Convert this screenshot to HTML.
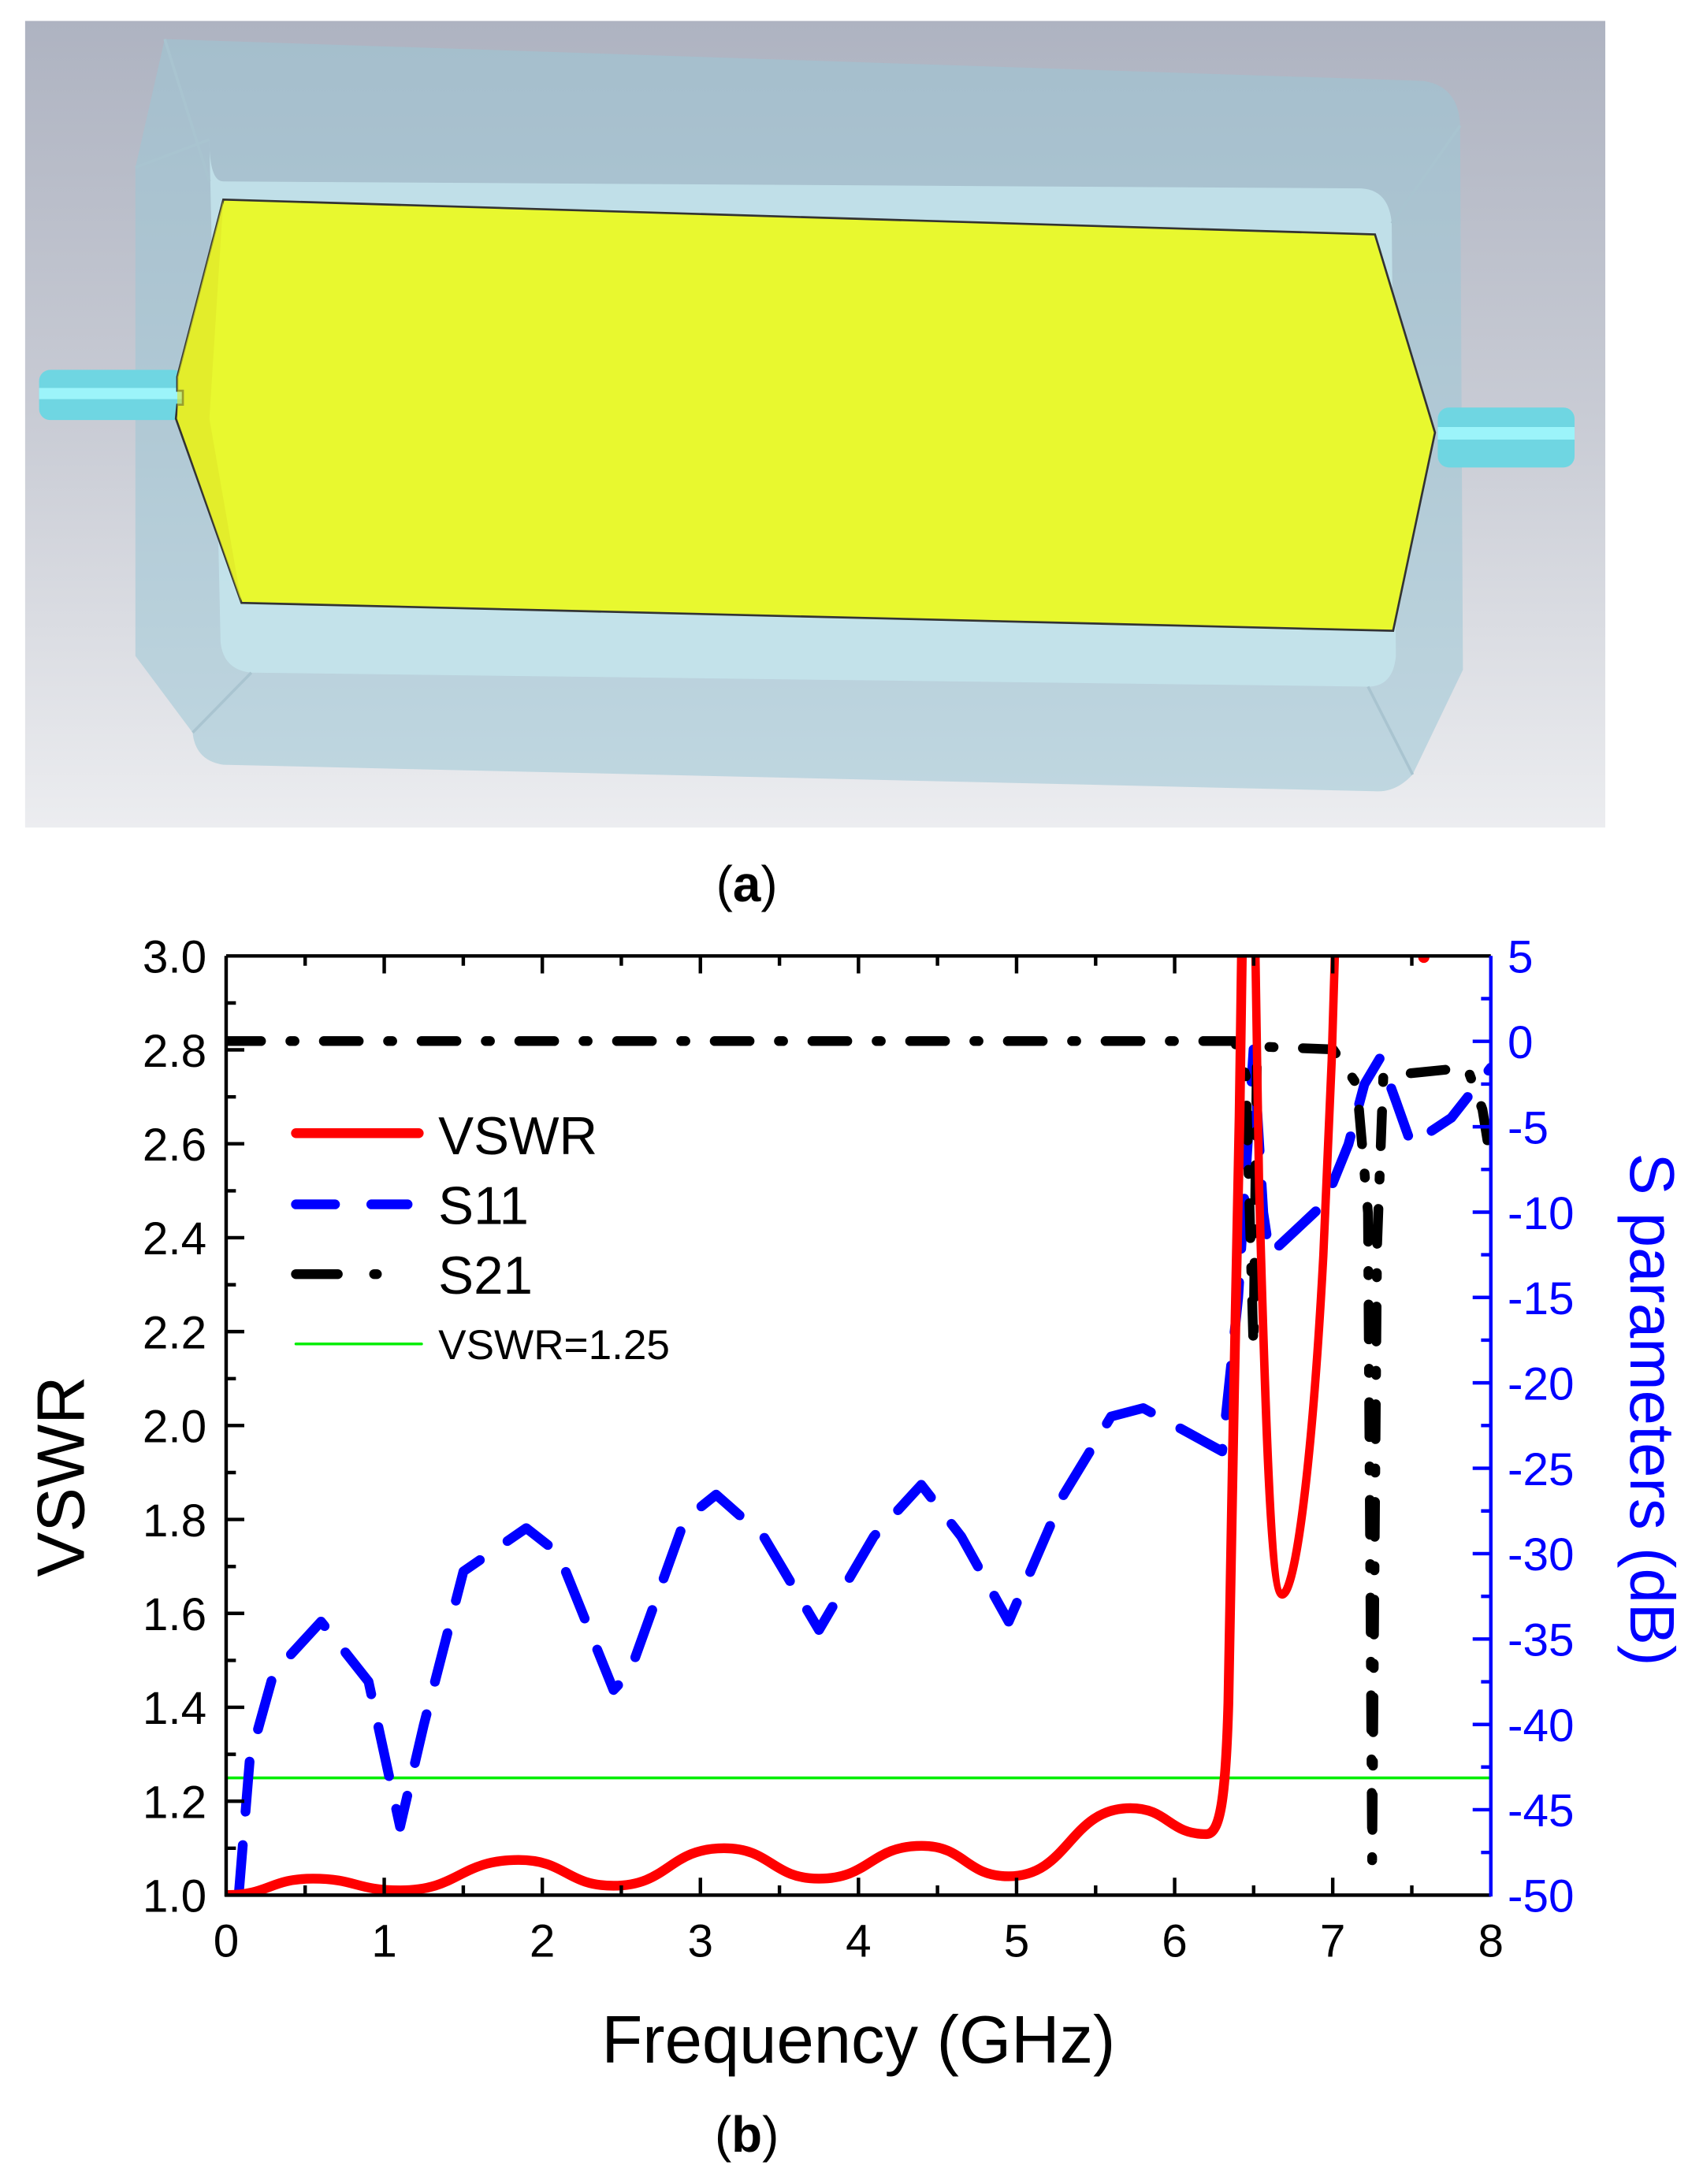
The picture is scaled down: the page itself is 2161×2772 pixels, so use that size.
<!DOCTYPE html>
<html><head><meta charset="utf-8"><style>
html,body{margin:0;padding:0;background:#fff;}
svg{display:block;}
text{font-family:"Liberation Sans",sans-serif;}
</style></head><body>
<svg width="2161" height="2772" viewBox="0 0 1220 1565" preserveAspectRatio="none" xmlns="http://www.w3.org/2000/svg">
<defs>
<linearGradient id="bg" x1="0" y1="0" x2="0" y2="1">
<stop offset="0" stop-color="#aeb3c1"/><stop offset="0.5" stop-color="#c9ccd5"/><stop offset="1" stop-color="#ecedf0"/>
</linearGradient>
<clipPath id="pc"><rect x="162" y="685" width="906" height="673"/></clipPath>
</defs>
<!-- panel a -->
<rect x="18" y="15" width="1132" height="578" fill="url(#bg)"/>
<path d="M118,28 L1020,58 Q1045,62 1046,90 L1048,480 L1012,555 Q1000,568 985,567 L160,548 Q140,545 138,525 L97,470 L97,120 Z" fill="#9cc6d6" fill-opacity="0.55"/>
<path d="M150,100 Q150,130 160,130 L975,135 Q995,136 997,160 L1000,470 Q998,492 980,492 L180,482 Q160,480 158,460 Z" fill="#c6e6ee" opacity="0.8"/>
<path d="M118,28 L150,130 M97,120 L150,100 M1046,90 L997,160 M1012,555 L980,492 M138,525 L180,482" stroke="#a9c4d0" stroke-width="2" fill="none"/>
<rect x="28" y="265" width="104" height="36" rx="8" fill="#6fd6e2"/>
<rect x="28" y="278" width="104" height="8" fill="#9cf4fa"/>
<rect x="1030" y="292" width="98" height="43" rx="8" fill="#6fd6e2"/>
<rect x="1030" y="306" width="98" height="9" fill="#9cf4fa"/>
<polygon points="160,143 985,168 1028,310 998,452 173,432 126,300 127,290 131,290 131,280 127,280 127,270" fill="#e8f82f" stroke="#333" stroke-width="1.5"/>
<polygon points="160,143 127,270 127,300 173,432 150,300" fill="#e0e62a" opacity="0.6"/>
<text x="535" y="646" text-anchor="middle" font-family="Liberation Serif,serif" font-size="36"><tspan>(</tspan><tspan font-weight="bold">a</tspan><tspan>)</tspan></text>

<line x1="162" y1="1274" x2="1068" y2="1274" stroke="#00ee00" stroke-width="2" clip-path="url(#pc)"/>
<g clip-path="url(#pc)" fill="none" stroke-linecap="round" stroke-linejoin="round">
<path d="M171,1358 L179,1260 L196,1199 L230,1162 L264,1205 L286.6,1309 L303.6,1236 L332,1126 L377,1095 L400,1113 L439.5,1211 L451,1199 L490.5,1089 L513,1071 L547,1101 L586.7,1168 L626,1101 L660,1064 L688.6,1101 L722.6,1162 L762,1071 L796,1015 L819,1009 L875.5,1040 L887,930 L898,752 L905,869 L909.5,899 L949,862 L966,820 L977.4,777 L988.7,758 L1000,789 L1011,820 L1039.7,801 L1068,765" stroke="#0000ff" stroke-width="7" stroke-dasharray="36 24"/>
<path d="M162,746 L884.5,746 L892.5,771 L898,966 L900.4,758 L904,750 L955,752 L972,777 L980,869 L983,1333 L986.5,893 L991,771 L1051,765 L1062,795 L1068,832" stroke="#000" stroke-width="7" stroke-dasharray="25 21 3 21"/>
<path d="M162,1358 C193,1358 193,1346.2 224.3,1346.2 C255,1346.2 255,1354.6 286.6,1354.6 C329,1354.6 329,1332.8 371.5,1332.8 C405.5,1332.8 405.5,1351.3 439.5,1351.3 C479,1351.3 479,1324.4 518.7,1324.4 C552.7,1324.4 552.7,1346.2 586.7,1346.2 C623.5,1346.2 623.5,1322.7 660.3,1322.7 C691.5,1322.7 691.5,1344.5 722.6,1344.5 C766,1344.5 766,1295.7 809.8,1295.7 C837,1295.7 837,1314.3 864.2,1314.3 C874,1314.3 878,1290 880,1220 L884,1000 L888,800 L890,660" stroke="#ff0000" stroke-width="7"/>
<path d="M899,660 L902,850 C906,1000 910,1142 918.5,1142.6 C928,1142 940,1050 948,900 L954,760 L957,660" stroke="#ff0000" stroke-width="6"/>
<circle cx="1020" cy="686" r="4" fill="#ff0000" stroke="none"/>
</g>
<g stroke="#000" stroke-width="2.5" fill="none">
<line x1="162" y1="685" x2="1068" y2="685"/>
<line x1="162" y1="685" x2="162" y2="1359"/>
<line x1="161" y1="1358" x2="1068" y2="1358"/>
<path d="M275.25,1358v-12.5M388.5,1358v-12.5M501.75,1358v-12.5M615,1358v-12.5M728.25,1358v-12.5M841.5,1358v-12.5M954.75,1358v-12.5
M218.6,1358v-7M331.9,1358v-7M445.1,1358v-7M558.4,1358v-7M671.6,1358v-7M784.9,1358v-7M898.1,1358v-7M1011.4,1358v-7
M275.25,685v12.5M388.5,685v12.5M501.75,685v12.5M615,685v12.5M728.25,685v12.5M841.5,685v12.5M954.75,685v12.5
M218.6,685v7M331.9,685v7M445.1,685v7M558.4,685v7M671.6,685v7M784.9,685v7M898.1,685v7M1011.4,685v7
M162,1290.7h13M162,1223.4h13M162,1156.1h13M162,1088.8h13M162,1021.5h13M162,954.2h13M162,886.9h13M162,819.6h13M162,752.3h13
M162,1324.4h7M162,1257.1h7M162,1189.8h7M162,1122.5h7M162,1055.2h7M162,987.9h7M162,920.6h7M162,853.3h7M162,786h7M162,718.7h7"/>
</g>
<g stroke="#0000ff" stroke-width="2.5" fill="none">
<line x1="1068" y1="685" x2="1068" y2="1359"/>
<path d="M1068,746.2h-13M1068,807.4h-13M1068,868.6h-13M1068,929.7h-13M1068,990.9h-13M1068,1052.1h-13M1068,1113.3h-13M1068,1174.5h-13M1068,1235.7h-13M1068,1296.8h-13
M1068,715.6h-7M1068,776.8h-7M1068,838h-7M1068,899.1h-7M1068,960.3h-7M1068,1021.5h-7M1068,1082.7h-7M1068,1143.9h-7M1068,1205.1h-7M1068,1266.2h-7M1068,1327.4h-7"/>
</g>
<g font-size="33" text-anchor="end" fill="#000">
<text x="148" y="1370">1.0</text><text x="148" y="1302.7">1.2</text><text x="148" y="1235.4">1.4</text><text x="148" y="1168.1">1.6</text><text x="148" y="1100.8">1.8</text><text x="148" y="1033.5">2.0</text><text x="148" y="966.2">2.2</text><text x="148" y="898.9">2.4</text><text x="148" y="831.6">2.6</text><text x="148" y="764.3">2.8</text><text x="148" y="697">3.0</text>
</g>
<g font-size="33" text-anchor="middle" fill="#000">
<text x="162" y="1402">0</text><text x="275.25" y="1402">1</text><text x="388.5" y="1402">2</text><text x="501.75" y="1402">3</text><text x="615" y="1402">4</text><text x="728.25" y="1402">5</text><text x="841.5" y="1402">6</text><text x="954.75" y="1402">7</text><text x="1068" y="1402">8</text>
</g>
<g font-size="33" fill="#0000ff">
<text x="1080" y="697">5</text><text x="1080" y="758.2">0</text><text x="1080" y="819.4">-5</text><text x="1080" y="880.6">-10</text><text x="1080" y="941.7">-15</text><text x="1080" y="1002.9">-20</text><text x="1080" y="1064.1">-25</text><text x="1080" y="1125.3">-30</text><text x="1080" y="1186.5">-35</text><text x="1080" y="1247.7">-40</text><text x="1080" y="1308.8">-45</text><text x="1080" y="1370">-50</text>
</g>
<text x="0" y="0" font-size="48" text-anchor="middle" transform="translate(60,1058) rotate(-90)">VSWR</text>
<text x="0" y="0" font-size="45" text-anchor="middle" fill="#0000ff" transform="translate(1168,1010) rotate(90)">S parameters (dB)</text>
<text x="615" y="1478" font-size="48" text-anchor="middle">Frequency (GHz)</text>
<text x="535" y="1542" text-anchor="middle" font-family="Liberation Serif,serif" font-size="36"><tspan>(</tspan><tspan font-weight="bold">b</tspan><tspan>)</tspan></text>
<g stroke-linecap="round" fill="none" stroke-width="7">
<line x1="212" y1="812" x2="300" y2="812" stroke="#ff0000"/>
<line x1="212" y1="863" x2="240" y2="863" stroke="#0000ff"/>
<line x1="266" y1="863" x2="292" y2="863" stroke="#0000ff"/>
<line x1="212" y1="913" x2="242" y2="913" stroke="#000"/>
<line x1="268" y1="913" x2="270" y2="913" stroke="#000"/>
<line x1="212" y1="963" x2="302" y2="963" stroke="#00ee00" stroke-width="2"/>
</g>
<text x="314" y="827" font-size="38">VSWR</text>
<text x="314" y="877" font-size="38">S11</text>
<text x="314" y="927" font-size="38">S21</text>
<text x="314" y="974" font-size="30">VSWR=1.25</text>
</svg>
</body></html>
